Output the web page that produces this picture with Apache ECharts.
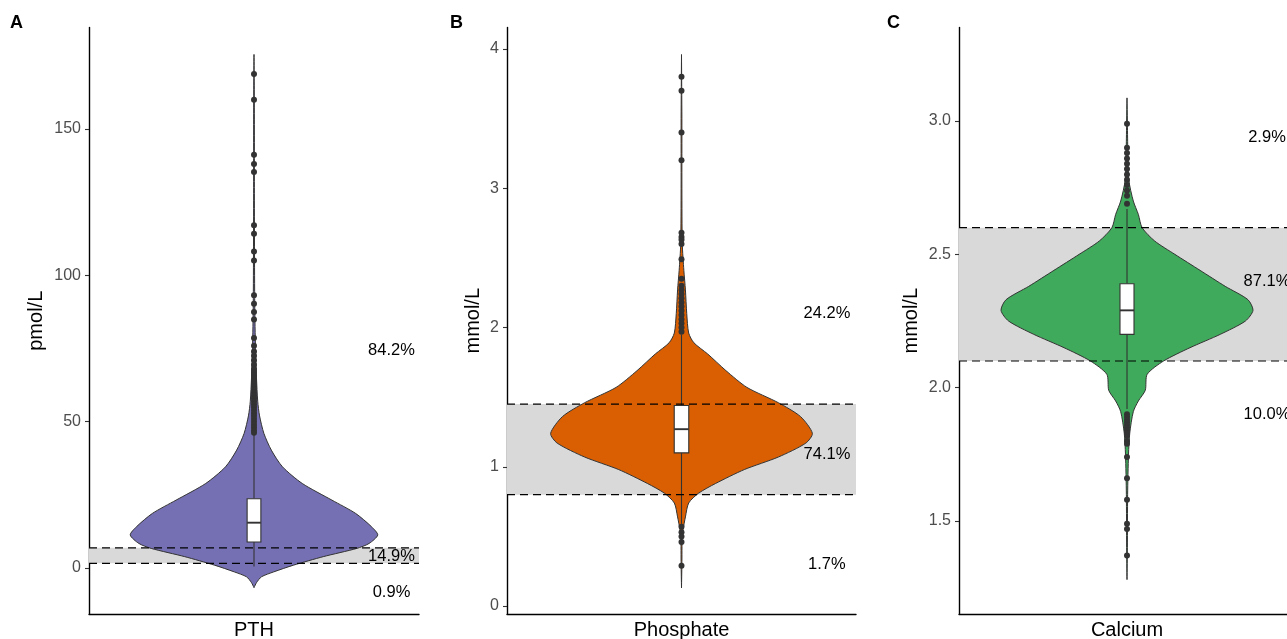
<!DOCTYPE html>
<html><head><meta charset="utf-8">
<script src="https://cdn.jsdelivr.net/npm/echarts@6/dist/echarts.min.js"></script>
<style>html,body{margin:0;padding:0;background:#fff}#c{width:1287px;height:639px}</style>
</head><body><div id="c"></div>
<script>
// ---------- data ----------
const panelLetters = ['A', 'B', 'C'];
const categories = ['PTH', 'Phosphate', 'Calcium'];
const yTitles = ['pmol/L', 'mmol/L', 'mmol/L'];

const yTicksA = [0, 50, 100, 150];
const yTicksB = [0, 1, 2, 3, 4];
const yTicksC = [1.5, 2.0, 2.5, 3.0];

// violin profiles: levels (y) and relative half-width (1 = widest)
const pthLevels = [-6.7, -5, -3, -1.3, 1.0, 3.9, 6.7, 8.4, 11.3, 14.1, 18.7, 23.2, 28.9, 34.6, 40.3, 46, 52, 57, 65, 75, 90, 110, 130, 150, 165, 175.5];
const pthWidths = [0, 0.02, 0.06, 0.16, 0.32, 0.56, 0.83, 0.93, 1.0, 0.95, 0.82, 0.63, 0.39, 0.23, 0.14, 0.08, 0.045, 0.03, 0.02, 0.012, 0.006, 0.004, 0.003, 0.003, 0.002, 0];

const phosLevels = [0.13, 0.3, 0.5, 0.55, 0.64, 0.74, 0.81, 0.88, 0.98, 1.07, 1.17, 1.24, 1.36, 1.46, 1.57, 1.69, 1.81, 1.89, 1.96, 2.10, 2.27, 2.41, 2.6, 3.0, 3.5, 3.96];
const phosWidths = [0, 0.003, 0.005, 0.012, 0.03, 0.055, 0.13, 0.26, 0.48, 0.74, 0.95, 1.0, 0.91, 0.74, 0.50, 0.34, 0.20, 0.095, 0.055, 0.04, 0.03, 0.018, 0.006, 0.003, 0.003, 0];

const calLevels = [1.28, 1.4, 1.6, 1.75, 1.83, 1.91, 1.95, 1.99, 2.05, 2.10, 2.15, 2.20, 2.25, 2.29, 2.33, 2.38, 2.44, 2.50, 2.55, 2.60, 2.65, 2.70, 2.78, 2.9, 3.0, 3.087];
const calWidths = [0, 0.003, 0.005, 0.012, 0.022, 0.05, 0.09, 0.145, 0.16, 0.29, 0.50, 0.74, 0.94, 1.0, 0.96, 0.78, 0.58, 0.38, 0.22, 0.12, 0.09, 0.05, 0.014, 0.006, 0.003, 0];

// box stats: [Q1, median, Q3] and whisker ends [low, high]
const pthBox = [8.9, 15.5, 23.7];
const pthWhisker = [0.5, 45.9];
const phosBox = [1.10, 1.27, 1.44];
const phosWhisker = [0.59, 1.95];
const calBox = [2.20, 2.29, 2.39];
const calWhisker = [1.92, 2.67];

// outliers
const pthOutliers = [168.8, 160, 141.2, 138.1, 135.3, 117.1, 114.2, 108.2, 105.1, 93.2, 90.3, 87.5, 84.9, 78.6, 76, 74, 72.5, 71, 69.5, 68, 67, 66, 65, 64, 63, 62, 61, 60, 59, 58, 57, 56, 55, 54, 53, 52, 51, 50, 49, 48, 47, 46.2];
const phosOutliers = [3.80, 3.70, 3.40, 3.20, 2.68, 2.65, 2.63, 2.60, 2.49, 2.35, 2.30, 2.27, 2.24, 2.21, 2.18, 2.15, 2.12, 2.09, 2.06, 2.03, 2.00, 1.97, 0.57, 0.53, 0.50, 0.46, 0.29];
const calOutliers = [2.99, 2.90, 2.88, 2.86, 2.84, 2.82, 2.80, 2.78, 2.76, 2.74, 2.72, 2.69, 1.90, 1.89, 1.88, 1.87, 1.86, 1.85, 1.84, 1.83, 1.82, 1.80, 1.79, 1.74, 1.66, 1.58, 1.49, 1.47, 1.37];

// reference ranges [low, high]
const pthRef = [1.6, 6.9];
const phosRef = [0.80, 1.45];
const calRef = [2.10, 2.60];

// percentage annotations
const pthPctText = ['84.2%', '14.9%', '0.9%'];
const pthPctY = [74.5, 4.0, -8.5];
const phosPctText = ['24.2%', '74.1%', '1.7%'];
const phosPctY = [2.10, 1.09, 0.30];
const calPctText = ['2.9%', '87.1%', '10.0%'];
const calPctY = [2.94, 2.40, 1.90];

// y-axis extents
const yRanges = [[-15.7, 184.7], [-0.057, 4.154], [1.151, 3.351]];

// ---------- rendering ----------
const FONT = '"Liberation Sans", Arial, Helvetica, sans-serif';
const fills = ['#7570B3', '#D95F02', '#3FAA5B'];
const OUT = '#333333';

function violinRender(levels, widths, fill) {
  return function (params, api) {
    const bw = api.size([1, 0])[0];
    const sc = bw * 0.45 / 1.2;
    const right = [], left = [];
    for (let i = 0; i < levels.length; i++) {
      const p = api.coord([0, levels[i]]);
      right.push([p[0] + widths[i] * sc, p[1]]);
      left.push([p[0] - widths[i] * sc, p[1]]);
    }
    const pts = right.concat(left.reverse());
    return { type: 'polygon', shape: { points: pts, smooth: 0.25 }, style: { fill: fill, stroke: OUT, lineWidth: 1.0 } };
  };
}
function boxRender(box, whisk) {
  return function (params, api) {
    const bw = api.size([1, 0])[0];
    const hw = bw * 0.025 / 1.2;
    const m = api.coord([0, box[1]]);
    const q1 = api.coord([0, box[0]]), q3 = api.coord([0, box[2]]);
    const lo = api.coord([0, whisk[0]]), hi = api.coord([0, whisk[1]]);
    const ls = { stroke: OUT, lineWidth: 1.1 };
    return { type: 'group', children: [
      { type: 'line', shape: { x1: m[0], y1: lo[1], x2: m[0], y2: q1[1] }, style: ls },
      { type: 'line', shape: { x1: m[0], y1: q3[1], x2: m[0], y2: hi[1] }, style: ls },
      { type: 'rect', shape: { x: m[0] - hw, y: q3[1], width: 2 * hw, height: q1[1] - q3[1] }, style: { fill: '#fff', stroke: OUT, lineWidth: 1.1 } },
      { type: 'line', shape: { x1: m[0] - hw, y1: m[1], x2: m[0] + hw, y2: m[1] }, style: { stroke: OUT, lineWidth: 1.9 } }
    ] };
  };
}
function bandRender(ref) {
  return function (params, api) {
    const cs = params.coordSys;
    const a = api.coord([0, ref[1]]), b = api.coord([0, ref[0]]);
    return { type: 'rect', shape: { x: cs.x, y: a[1], width: cs.width, height: b[1] - a[1] }, style: { fill: '#D9D9D9' } };
  };
}
function dashRender(ref) {
  return function (params, api) {
    const cs = params.coordSys;
    return { type: 'group', children: ref.map(function (v) {
      const p = api.coord([0, v]);
      return { type: 'line', shape: { x1: cs.x, y1: p[1], x2: cs.x + cs.width, y2: p[1] }, style: { stroke: '#000', lineWidth: 1.2, lineDash: [8, 5] } };
    }) };
  };
}
function pctRender(texts, ys) {
  return function (params, api) {
    const bw = api.size([1, 0])[0];
    return { type: 'group', children: texts.map(function (t, i) {
      const p = api.coord([0, ys[i]]);
      return { type: 'text', x: p[0] + bw * 0.5 / 1.2, y: p[1], style: { text: t, fill: '#000', fontSize: 16.5, fontFamily: FONT, align: 'center', verticalAlign: 'middle' } };
    }) };
  };
}

const panels = [
  { levels: pthLevels, widths: pthWidths, box: pthBox, whisk: pthWhisker, out: pthOutliers, ref: pthRef, pt: pthPctText, py: pthPctY, ticks: yTicksA, fmt: v => String(v), gap: 43 },
  { levels: phosLevels, widths: phosWidths, box: phosBox, whisk: phosWhisker, out: phosOutliers, ref: phosRef, pt: phosPctText, py: phosPctY, ticks: yTicksB, fmt: v => String(v), gap: 24 },
  { levels: calLevels, widths: calWidths, box: calBox, whisk: calWhisker, out: calOutliers, ref: calRef, pt: calPctText, py: calPctY, ticks: yTicksC, fmt: v => v.toFixed(1), gap: 38 }
];
const gridLefts = [89, 507, 959];
const gridWidths = [330, 349, 336];
const letterLefts = [10, 450, 887];

const option = {
  animation: false,
  backgroundColor: '#fff',
  title: panelLetters.map((t, i) => ({ text: t, left: letterLefts[i], top: 14, padding: 0, textStyle: { fontSize: 18, fontWeight: 'bold', color: '#000', fontFamily: FONT } })),
  grid: gridLefts.map((l, i) => ({ left: l, width: gridWidths[i], top: 27.5, bottom: 25, outerBoundsMode: 'none', containLabel: false })),
  xAxis: categories.map((c, i) => ({
    type: 'category', gridIndex: i, data: [c],
    axisLine: { show: true, onZero: false, lineStyle: { color: '#000', width: 1.4 } },
    axisTick: { show: false },
    axisLabel: { color: '#000', fontSize: 20, fontFamily: FONT, margin: 6 },
    splitLine: { show: false }
  })),
  yAxis: panels.map((p, i) => ({
    type: 'value', gridIndex: i, min: yRanges[i][0], max: yRanges[i][1],
    name: yTitles[i], nameLocation: 'middle', nameGap: p.gap,
    nameTextStyle: { fontSize: 20, color: '#000', fontFamily: FONT },
    axisLine: { show: true, onZero: false, lineStyle: { color: '#000', width: 1.4 } },
    axisTick: { show: true, length: 4, lineStyle: { color: '#333', width: 1.1 }, customValues: p.ticks },
    axisLabel: { color: '#4D4D4D', fontSize: 16, fontFamily: FONT, margin: 8, customValues: p.ticks, formatter: p.fmt },
    splitLine: { show: false }
  })),
  series: []
};
panels.forEach((p, i) => {
  const base = { type: 'custom', xAxisIndex: i, yAxisIndex: i, data: [[0, 0]], silent: true, clip: false };
  option.series.push(Object.assign({}, base, { z: 1, renderItem: bandRender(p.ref) }));
  option.series.push(Object.assign({}, base, { z: 2, renderItem: violinRender(p.levels, p.widths, fills[i]) }));
  option.series.push(Object.assign({}, base, { z: 3, renderItem: boxRender(p.box, p.whisk) }));
  option.series.push({ type: 'scatter', xAxisIndex: i, yAxisIndex: i, z: 4, silent: true, symbol: 'circle', symbolSize: 6,
    itemStyle: { color: OUT, opacity: 1 }, data: p.out.map(v => [0, v]) });
  option.series.push(Object.assign({}, base, { z: 5, renderItem: dashRender(p.ref) }));
  option.series.push(Object.assign({}, base, { z: 6, renderItem: pctRender(p.pt, p.py) }));
});
const chart = echarts.init(document.getElementById('c'), null, { renderer: 'canvas' });
chart.setOption(option);
</script></body></html>
